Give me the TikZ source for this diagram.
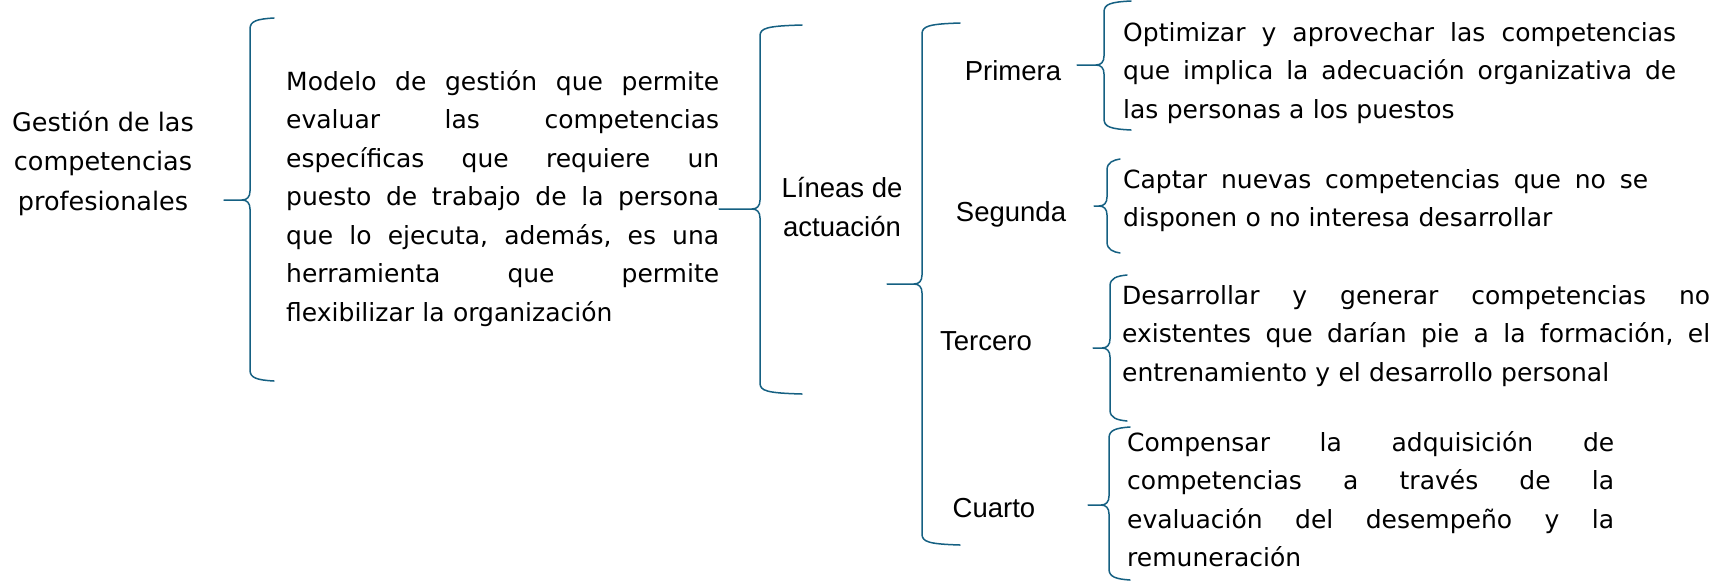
\documentclass[tikz,border=0pt]{standalone}
\usepackage{fontspec}
\setmainfont{DejaVu Sans}
\newfontfamily\labfont{Liberation Sans}
\definecolor{bracecol}{HTML}{156082}
\newcommand\jline[2]{\leavevmode\hbox to #1{#2}}
% xv, ytop, ybot, xtip, ytip, xhook
\newcommand\mybrace[6]{%
  \draw[brc] (#6,#2) .. controls (#1+7,#2+1) and (#1,#2+3) .. (#1,#2+11)
    -- (#1,#5-9) .. controls (#1,#5-3) and (#1-3,#5) .. (#1-8,#5) -- (#4,#5)
    -- (#1-8,#5) .. controls (#1-3,#5) and (#1,#5+3) .. (#1,#5+9)
    -- (#1,#3-11) .. controls (#1,#3-3) and (#1+7,#3-1) .. (#6,#3);}
\begin{document}
\begin{tikzpicture}[x=1pt,y=-1pt,
  brc/.style={draw=bracecol,line width=1.5pt,line join=round,line cap=round},
  para/.style={inner sep=0pt,anchor=north west,align=left,
    font=\fontsize{25}{38.5}\selectfont},
  lab/.style={inner sep=0pt,align=center,font=\labfont\fontsize{27.5}{39}\selectfont}]
\path[use as bounding box,fill=white] (0,0) rectangle (1721,582);

\node[inner sep=0pt,anchor=north,align=center,font=\fontsize{25.5}{39.5}\selectfont]
  (gest) at (103,105) {\rule{0pt}{26pt}Gestión de las\\competencias\\profesionales};

\node[para,text width=433pt] (p1) at (286,65) {\rule{0pt}{25pt}\jline{433pt}{Modelo\hfill de\hfill gestión\hfill que\hfill permite}\\
\jline{433pt}{evaluar\hfill las\hfill competencias}\\
\jline{433pt}{específicas\hfill que\hfill requiere\hfill un}\\
\jline{433pt}{puesto\hfill de\hfill trabajo\hfill de\hfill la\hfill persona}\\
\jline{433pt}{que\hfill lo\hfill ejecuta,\hfill además,\hfill es\hfill una}\\
\jline{433pt}{herramienta\hfill que\hfill permite}\\
flexibilizar la organización};

\node[lab,anchor=north] (lin) at (842,169) {\rule{0pt}{28pt}Líneas de\\actuación};

\node[lab,anchor=base] (pri) at (1013,80) {Primera};
\node[lab,anchor=base] (seg) at (1011,221) {Segunda};
\node[lab,anchor=base] (ter) at (986,350) {Tercero};
\node[lab,anchor=base] (cua) at (994,517) {Cuarto};

\node[para,text width=553pt] (pP) at (1123,16) {\rule{0pt}{25pt}\jline{553pt}{Optimizar\hfill y\hfill aprovechar\hfill las\hfill competencias}\\
\jline{553pt}{que\hfill implica\hfill la\hfill adecuación\hfill organizativa\hfill de}\\
las personas a los puestos};

\node[para,text width=525pt] (pS) at (1123,163) {\rule{0pt}{25pt}\jline{525pt}{Captar\hfill nuevas\hfill competencias\hfill que\hfill no\hfill se}\\
disponen o no interesa desarrollar};

\node[para,text width=588pt] (pT) at (1122,279) {\rule{0pt}{25pt}\jline{588pt}{Desarrollar\hfill y\hfill generar\hfill competencias\hfill no}\\
\jline{588pt}{existentes\hfill que\hfill darían\hfill pie\hfill a\hfill la\hfill formación,\hfill el}\\
entrenamiento y el desarrollo personal};

\node[para,text width=487pt] (pC) at (1127,426) {\rule{0pt}{25pt}\jline{487pt}{Compensar\hfill la\hfill adquisición\hfill de}\\
\jline{487pt}{competencias\hfill a\hfill través\hfill de\hfill la}\\
\jline{487pt}{evaluación\hfill del\hfill desempeño\hfill y\hfill la}\\
remuneración};

\mybrace{250}{18}{381}{224}{200}{274}
\mybrace{760}{25}{394}{719}{209}{802}
\mybrace{922}{23}{545}{887}{284}{960}
\mybrace{1104}{1}{130}{1077}{65}{1131}
\mybrace{1107}{159}{253}{1094}{206}{1120}
\mybrace{1110}{275}{421}{1093}{348}{1127}
\mybrace{1109}{427}{580}{1088}{505}{1130}
\end{tikzpicture}
\end{document}
